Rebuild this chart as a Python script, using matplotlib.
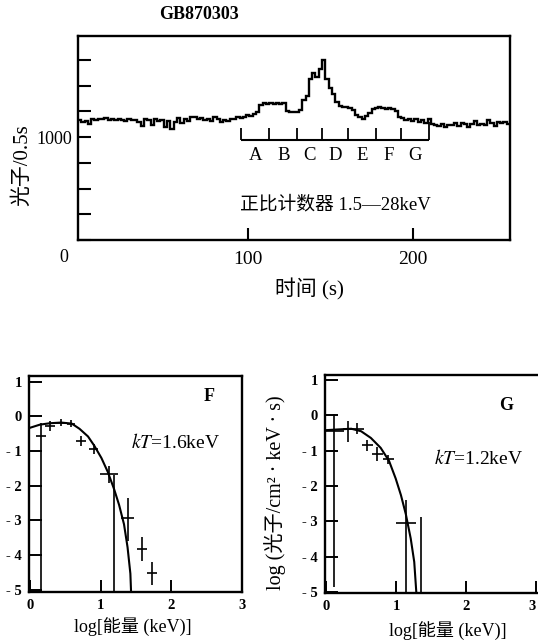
import numpy as np
import matplotlib.pyplot as plt

plt.rcParams['font.family'] = ['Liberation Serif', 'Noto Sans CJK SC']
plt.rcParams['mathtext.fontset'] = 'stix'
plt.rcParams['axes.unicode_minus'] = False

# 光变曲线: 2 s 一格, 从 -3 s 开始
t_start = -3
bin_width = 2
counts = [1170, 1150, 1160, 1130, 1175, 1165, 1180, 1175, 1185, 1170,
          1180, 1165, 1175, 1170, 1160, 1175, 1165, 1170, 1150, 1110,
          1175, 1165, 1120, 1180, 1155, 1170, 1100, 1160, 1080, 1150,
          1185, 1140, 1175, 1160, 1190, 1195, 1180, 1185, 1170, 1175,
          1160, 1190, 1175, 1150, 1170, 1155, 1175, 1180, 1190, 1185,
          1195, 1210, 1205, 1225, 1240, 1310, 1330, 1325, 1335, 1320,
          1330, 1325, 1330, 1250, 1240, 1245, 1240, 1260, 1360, 1400,
          1560, 1620, 1580, 1660, 1750, 1560, 1480, 1420, 1340, 1300,
          1290, 1295, 1285, 1260, 1210, 1195, 1180, 1200, 1230, 1270,
          1280, 1290, 1285, 1275, 1280, 1270, 1250, 1190, 1185, 1170,
          1180, 1160, 1175, 1150, 1165, 1140, 1180, 1130, 1120, 1110,
          1125, 1100, 1120, 1115, 1135, 1110, 1140, 1125, 1100, 1130,
          1160, 1115, 1130, 1120, 1165, 1140, 1110, 1150, 1135, 1145,
          1130]

seg_edges = [96, 113, 130, 145, 161, 178, 193, 210]
seg_names = ['A', 'B', 'C', 'D', 'E', 'F', 'G']

top_yticks = [0, 250, 500, 750, 1000, 1250, 1500, 1750]
top_ylabels = ['', '', '', '', '1000', '', '', '']
top_xticks = [100, 200]

# 能谱 F
f_x = [0.15, 0.28, 0.44, 0.58, 0.72, 0.90, 1.12, 1.19, 1.38, 1.58, 1.73]
f_y = [-0.58, -0.28, -0.19, -0.21, -0.72, -0.95, -1.66, -2.05, -2.92, -3.82, -4.50]
f_xerr = [0.07, 0.07, 0.09, 0.05, 0.07, 0.06, 0.13, 0.0, 0.095, 0.07, 0.07]
f_yerr_lo = [4.5, 0.14, 0.10, 0.10, 0.14, 0.15, 0.25, 3.0, 0.66, 0.35, 0.36]
f_yerr_hi = [0.39, 0.14, 0.10, 0.10, 0.14, 0.15, 0.22, 0.35, 0.56, 0.35, 0.30]
f_curve_x = [0, 0.14, 0.28, 0.44, 0.59, 0.70, 0.82, 0.91, 1.01, 1.10, 1.19, 1.26, 1.33, 1.38, 1.42, 1.43]
f_curve_y = [-0.33, -0.24, -0.20, -0.18, -0.21, -0.36, -0.58, -0.85, -1.20, -1.60, -2.10, -2.55, -3.11, -3.77, -4.53, -5.07]

# 能谱 G
g_x = [0.12, 0.31, 0.44, 0.59, 0.73, 0.89, 1.14]
g_y = [-0.44, -0.40, -0.38, -0.85, -1.10, -1.25, -3.04]
g_xerr = [0.14, 0.07, 0.10, 0.08, 0.08, 0.08, 0.14]
g_yerr_lo = [4.42, 0.36, 0.15, 0.16, 0.19, 0.14, 2.0]
g_yerr_hi = [0.47, 0.25, 0.15, 0.16, 0.19, 0.14, 0.63]
g_lim_x = [1.36]
g_lim_top = [-2.88]
g_curve_x = [0, 0.17, 0.36, 0.50, 0.64, 0.78, 0.90, 0.995, 1.07, 1.14, 1.21, 1.26, 1.29]
g_curve_y = [-0.42, -0.40, -0.38, -0.45, -0.64, -0.92, -1.29, -1.79, -2.26, -2.80, -3.49, -4.15, -5.02]

spec_yticks = [-5, -4, -3, -2, -1, 0, 1]
spec_ylabels = ['- 5', '- 4', '- 3', '- 2', '- 1', '0', '1']
spec_xticks = [0, 1, 2, 3]

fig = plt.figure(figsize=(5.38, 6.41), dpi=100)

"""上图: 光变曲线"""
ax = fig.add_axes([0.145, 0.6256, 0.803, 0.318])
edges = t_start + bin_width * np.arange(len(counts) + 1)
ax.stairs(counts, edges, color='k', lw=1.7, baseline=None)
ax.set_xlim(-3, 259)
ax.set_ylim(0, 1980)
for s in ax.spines.values():
    s.set_linewidth(1.7)
ax.set_yticks(top_yticks)
ax.set_yticklabels(top_ylabels, fontsize=13)
ax.set_xticks(top_xticks)
ax.set_xticklabels([str(v) for v in top_xticks], fontsize=14)
ax.tick_params(axis='y', direction='in', length=9.5, width=1.5, pad=4)
ax.tick_params(axis='x', direction='in', length=8.5, width=1.5, pad=8)

# A-G 分段
ax.hlines(970, seg_edges[0], seg_edges[-1], color='k', lw=1.5)
ax.vlines(seg_edges[:-1], 970, 1085, color='k', lw=1.3)
ax.vlines(seg_edges[-1], 970, 1150, color='k', lw=1.3)
for i, name in enumerate(seg_names):
    ax.text((seg_edges[i] + seg_edges[i + 1]) / 2, 825, name,
            ha='center', va='center', fontsize=13.5)
ax.text(95, 340, '正比计数器 1.5—28keV', ha='left', va='center', fontsize=13.5)

fig.text(0.119, 0.598, '0', ha='center', va='center', fontsize=13)
fig.text(0.370, 0.977, 'GB870303', ha='center', va='center', fontsize=13, fontweight='bold')
fig.text(0.041, 0.743, '光子/0.5s', rotation=90, ha='center', va='center', fontsize=15)
fig.text(0.576, 0.548, '时间 (s)', ha='center', va='center', fontsize=15)

"""下图: 能谱"""
def spec_axes(rect, xlim, ylim):
    a = fig.add_axes(rect)
    a.set_xlim(*xlim)
    a.set_ylim(*ylim)
    for s in a.spines.values():
        s.set_linewidth(1.7)
    a.set_yticks(spec_yticks)
    a.set_yticklabels(spec_ylabels, fontsize=10.5, fontweight='bold')
    a.set_xticks(spec_xticks)
    a.set_xticklabels([str(v) for v in spec_xticks], fontsize=10.5, fontweight='bold')
    a.tick_params(axis='both', direction='in', length=9, width=1.4, pad=5)
    return a

axF = spec_axes([0.0539, 0.0764, 0.3959, 0.337], (-0.015, 3.0), (-5.06, 1.16))
axF.errorbar(f_x, f_y, xerr=f_xerr, yerr=[f_yerr_lo, f_yerr_hi],
             fmt='none', ecolor='k', elinewidth=1.2, capsize=0)
axF.plot(f_curve_x, f_curve_y, color='k', lw=1.5)
axF.text(2.53, 0.57, 'F', ha='center', va='center', fontsize=13, fontweight='bold')
axF.text(1.43, -0.75, r'$kT$=1.6keV', ha='left', va='center', fontsize=14)

axG = spec_axes([0.6041, 0.0749, 0.3987, 0.340], (-0.015, 3.05), (-5.03, 1.14))
axG.errorbar(g_x, g_y, xerr=g_xerr, yerr=[g_yerr_lo, g_yerr_hi],
             fmt='none', ecolor='k', elinewidth=1.2, capsize=0)
axG.vlines(g_lim_x, -5.03, g_lim_top, color='k', lw=1.2)
axG.plot(g_curve_x, g_curve_y, color='k', lw=1.5)
axG.text(2.58, 0.28, 'G', ha='center', va='center', fontsize=13, fontweight='bold')
axG.text(1.54, -1.21, r'$kT$=1.2keV', ha='left', va='center', fontsize=14)
# 右边缘的 "3" 向左对齐, 避免被图边截掉
axG.get_xticklabels()[-1].set_horizontalalignment('right')

fig.text(0.247, 0.022, 'log[能量 (keV)]', ha='center', va='center', fontsize=13)
fig.text(0.833, 0.017, 'log[能量 (keV)]', ha='center', va='center', fontsize=13)
fig.text(0.511, 0.231, 'log (光子/cm² · keV · s)', rotation=90,
         ha='center', va='center', fontsize=14.5)

fig.savefig('out.png', dpi=100)
